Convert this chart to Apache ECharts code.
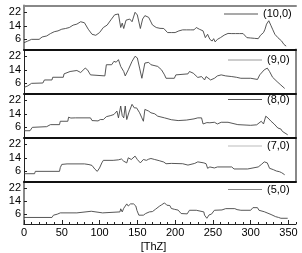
<!DOCTYPE html>
<html><head><meta charset="utf-8">
<script src="https://cdn.jsdelivr.net/npm/echarts@6/dist/echarts.min.js"></script>
<style>html,body{margin:0;padding:0;background:#fff}#c{width:302px;height:253px}</style>
</head><body><div id="c"></div>
<script>
const seriesNames = ['(10,0)', '(9,0)', '(8,0)', '(7,0)', '(5,0)'];
const xTickValues = [0, 50, 100, 150, 200, 250, 300, 350];
const yTickValues = [6, 14, 22];

const x10 = [0,5,10,20,24,30,35,40,45,50,55,60,65,70,75,80,85,90,95,100,105,110,115,120,125,128,130,132,135,140,143,147,150,154,157,160,165,170,175,180,185,190,195,200,205,210,215,220,225,228,232,237,240,243,246,249,251,253,256,260,265,270,275,280,285,290,295,300,305,310,313,317,319,321,324,327,329,332,336,341,344,347];
const y10 = [4,5,6,6,7.4,8,9.4,10.5,11,12,12.4,13,14.4,15,16.4,15.8,12,9,8.4,10,13,14.4,17.5,20.5,21,13,15.6,12.4,17.3,18,16.4,22,20.4,12.4,18,20,19,14.5,13,12.5,12.4,10,10,10,11,11.6,11.6,11.6,11.6,13,12,11,7,9,6,5,6.4,4.5,6,7,8.5,9.5,9.4,9.4,9.4,9.4,7,6.8,6.6,6.4,8.4,10,12,15,17,14,12,9,7,5,3,2];

const x9 = [0,5,10,25,27,37,38,52,53,61,70,75,81,84,88,90,107,109,116,119,122,125,128,132,134,138,143,147,150,153,156,160,165,168,177,182,186,188,199,201,217,219,224,230,235,239,241,247,252,256,258,261,267,275,281,287,300,309,312,318,322,325,329,335,340,345];
const y9 = [3.6,4.5,6,6.2,8,8,9.6,9.6,11.6,13,13.6,12.4,15,14,11,10.4,10.4,17,17,19,18.5,20,16,13,10.4,14,19,22,21,15,9,18,18.4,17,16,14,11,9,9,11,11.6,13,12,9.5,10,8,10,8,9,10.4,9.6,11,10.4,10,9.6,9,9,8.3,11,14,15,13,9.6,7,5,3];

const x8 = [0,8,11,30,35,47,48,58,59,62,64,68,88,90,98,101,105,109,115,119,123,125,128,130,132,134,136,139,143,146,149,153,156,158,160,165,168,173,177,186,195,204,215,225,230,235,237,242,246,248,252,256,261,270,283,300,308,314,317,320,323,327,331,336,340,342,349];
const y8 = [4,4,6,6.4,7.6,7.6,9.6,9.6,12,11.5,12.4,11.6,11.6,10,9.8,10.6,10.6,12.3,13,13.6,15.6,11.6,18.6,13,11.6,18.6,10.6,15,19.6,17.5,17.5,14.6,11.6,9.6,16.6,15.6,14.6,14,12.6,11.6,10.5,10,10.3,11,11.6,11.6,8,8.8,8.7,9.6,9,8,9,9,7.6,7.2,7.5,9.6,8,12.6,11.5,9.6,8,5.6,5,3.6,1.6];

const x7 = [0,14,15,47,48,50,57,80,86,90,94,97,100,103,105,118,125,129,132,134,136,138,142,147,150,152,154,158,162,165,168,173,179,185,188,195,210,212,217,219,226,230,238,241,243,246,252,256,275,278,296,298,310,314,318,320,322,325,330,334,338,341,345];
const y7 = [4.6,4.6,6,6,8.2,10.1,10.4,10.4,10,9.5,7.2,6,8,11,12.5,12.5,12.8,13.3,12,13,11,14,13,15,13,13.5,11,13,12.5,13.2,13.6,13,12.3,11.5,10.5,10.7,10.5,9.7,9.7,10.7,10.7,11.6,11,10.5,7.8,8.6,8,8.6,8.6,7.4,7.4,8,8.6,10,11.6,11.8,11,7.8,7,6.2,5.8,5.2,4];

const x5 = [0,37,39,44,48,70,71,89,90,104,105,127,128,130,132,134,136,138,141,145,148,149.5,152,158,161,166,170,174,179,182,186,189,193,195,199,204,208,216,219,228,230,238,239,242,245,248,252,262,267,279,282,287,300,303,305,309,311,318,320,327,333,337,340,349];
const y5 = [4,4,5.4,6,6.8,6.8,7.8,7.8,6.8,6.8,7.4,7.4,9.3,7.4,9.6,10,12.3,11,12.3,12.3,11,8.3,5.4,5.4,6.4,7.4,7.6,9,10.8,11.7,12.9,11.5,11.3,9.5,9,8.5,6.4,6.2,8.4,8.4,7.6,7.4,5.4,3.5,5.6,6,8.4,8.6,9.4,9.4,8.8,8.4,8.4,10,10.3,10,8.4,7.5,6.4,5.8,4.5,4,3.5,3.5];

const xsAll = [x10, x9, x8, x7, x5];
const ysAll = [y10, y9, y8, y7, y5];

const panelTops = [5.5, 49.5, 93.5, 137.5, 181.5];
const panelH = 44;
const legendTops = [8.5, 54.5, 94, 140.5, 184];
const legendLefts = [224, 228, 228, 228, 228];
const legendColors = ['#555', '#999', '#555', '#bbb', '#888'];
const font = 'Liberation Sans, Arial, sans-serif';

const grid = [], xAxis = [], yAxis = [], series = [], legend = [];
for (let i = 0; i < 5; i++) {
  grid.push({left: 24, right: 6, top: panelTops[i], height: panelH});
  const last = i === 4;
  xAxis.push({
    type: 'value', gridIndex: i, min: 0, max: 360, position: 'bottom',
    axisLine: {show: true, onZero: false, lineStyle: {color: last ? '#222' : '#111', width: last ? 1 : 2}},
    axisTick: {show: last, inside: true, length: 4, customValues: xTickValues, lineStyle: {color: '#222'}},
    axisLabel: {show: last, customValues: xTickValues, margin: 3, fontSize: 11, color: '#000', fontFamily: font},
    splitLine: {show: false},
    name: last ? '[ThZ]' : '', nameLocation: 'middle', nameGap: 17,
    nameTextStyle: {fontSize: 11, color: '#000', fontFamily: font, padding: [0, 13, 0, 0]}
  });
  yAxis.push({
    type: 'value', gridIndex: i, min: 0, max: 26,
    axisLine: {show: true, lineStyle: {color: '#222', width: 1}},
    axisTick: {show: true, inside: true, length: 3, customValues: yTickValues, lineStyle: {color: '#222'}},
    axisLabel: {customValues: yTickValues, margin: 3, fontSize: 11, color: '#000', fontFamily: font},
    splitLine: {show: false}
  });
  series.push({
    type: 'line', name: seriesNames[i], xAxisIndex: i, yAxisIndex: i,
    data: xsAll[i].map((x, k) => [x, ysAll[i][k]]),
    symbol: 'none', lineStyle: {color: '#444', width: 0.9}, itemStyle: {color: '#444'},
    animation: false
  });
  legend.push({
    show: true,
    data: [seriesNames[i]], left: legendLefts[i], top: legendTops[i], padding: 0,
    icon: 'rect', itemWidth: 34, itemHeight: 1,
    itemStyle: {color: legendColors[i], borderWidth: 0},
    textStyle: {fontSize: 11, color: '#000', fontFamily: font}
  });
}
for (let i = 0; i < 5; i++) {
  yAxis.push({
    type: 'value', gridIndex: i, min: 0, max: 26, position: 'right',
    axisLine: {show: true, lineStyle: {color: '#888', width: 2}},
    axisTick: {show: false}, axisLabel: {show: false}, splitLine: {show: false}
  });
}
xAxis.push({
  type: 'value', gridIndex: 0, min: 0, max: 360, position: 'top',
  axisLine: {show: true, onZero: false, lineStyle: {color: '#888', width: 2}},
  axisTick: {show: false}, axisLabel: {show: false}, splitLine: {show: false}
});
xAxis.push({
  type: 'value', gridIndex: 4, min: 0, max: 360, interval: 10, position: 'bottom',
  axisLine: {show: false},
  axisTick: {show: true, inside: true, length: 2, lineStyle: {color: '#222'}},
  axisLabel: {show: false}, splitLine: {show: false}
});

const chart = echarts.init(document.getElementById('c'), null, {renderer: 'canvas'});
chart.setOption({animation: false, grid, xAxis, yAxis, series, legend});
</script></body></html>
